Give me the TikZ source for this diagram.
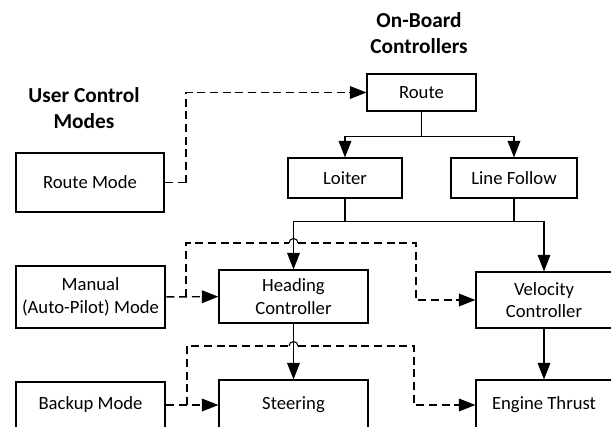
\documentclass[tikz,border=0pt]{standalone}
\usepackage{fontspec}
\setmainfont{Carlito}
\usetikzlibrary{arrows.meta}
\tikzset{
	box/.style={draw, line width=0.8pt, inner sep=0pt, align=center, font=\fontsize{14}{17}\selectfont},
	modebox/.style={box, line width=2.2pt},
	title/.style={align=center, font=\fontsize{16}{20}\selectfont\bfseries},
	link/.style={line width=1.1pt},
	flow/.style={link, -{Triangle[length=12.5pt, width=9.5pt]}},
	modelink/.style={line width=1.1pt, dash pattern={on 6pt off 3.5pt}},
	modeflow/.style={modelink, -{Triangle[length=12.5pt, width=9.5pt]}},
}
\begin{document}
\begin{tikzpicture}[x=0.75pt, y=-0.75pt]
	\useasboundingbox (0, 0) rectangle (611, 426);
	\clip (0, 0) rectangle (611, 426);
	\node[title] (usertitle) at (84, 108) {User Control\\Modes};
	\node[title] (boardtitle) at (419, 33) {On-Board\\Controllers};
	\node[modebox, minimum width=148*0.75pt, minimum height=59*0.75pt] (routemode) at (90, 182.5) {Route Mode};
	\node[modebox, minimum width=149*0.75pt, minimum height=62*0.75pt] (manual) at (90.5, 297) {Manual\\(Auto-Pilot) Mode};
	\node[modebox, minimum width=149*0.75pt, minimum height=46*0.75pt] (backup) at (90.5, 405) {Backup Mode};
	\node[box, minimum width=109*0.75pt, minimum height=37*0.75pt] (route) at (421.5, 92.5) {Route};
	\node[box, minimum width=114*0.75pt, minimum height=40*0.75pt] (loiter) at (345, 178) {Loiter};
	\node[box, minimum width=126*0.75pt, minimum height=40*0.75pt] (linefollow) at (514, 178) {Line Follow};
	\node[box, minimum width=149*0.75pt, minimum height=53*0.75pt] (heading) at (293.5, 296.5) {Heading\\Controller};
	\node[box, minimum width=136*0.75pt, minimum height=56*0.75pt] (velocity) at (544, 300) {Velocity\\Controller};
	\node[box, minimum width=149*0.75pt, minimum height=50*0.75pt] (steering) at (293.5, 405) {Steering};
	\node[box, minimum width=136*0.75pt, minimum height=50*0.75pt] (engine) at (544, 405) {Engine Thrust};
	\draw[flow] (route.south) -- ++(0, 25) coordinate (split) -| (loiter.north);
	\draw[flow] (split) -| (linefollow.north);
	\draw[link] (loiter.south) -- ++(0, 23) coordinate (merge);
	\draw[link] (linefollow.south) |- (merge);
	\draw[flow] (merge) -| (heading.north);
	\draw[flow] (merge) -| (velocity.north);
	\draw[flow] (heading) -- (steering);
	\draw[flow] (velocity) -- (engine);
	\coordinate (rbranch) at (186, 182.5);
	\coordinate (mbranch) at (186, 297);
	\coordinate (bbranch) at (187, 405);
	\draw[modelink] (routemode.east) -- (rbranch);
	\draw[modeflow] (rbranch) |- (route.west);
	\draw[modeflow] (manual) -- (heading);
	\draw[modelink] (mbranch) |- (289, 243);
	\draw[link, line width=0.8pt] (289, 243) arc (180:360:4.5);
	\draw[modeflow] (298, 243) -| (416, 300) -- (velocity.west);
	\draw[modeflow] (backup) -- (steering);
	\draw[modelink] (bbranch) |- (289, 346);
	\draw[link, line width=0.8pt] (289, 346) arc (180:360:4.5);
	\draw[modeflow] (298, 346) -| (414, 405) -- (engine.west);
\end{tikzpicture}
\end{document}
